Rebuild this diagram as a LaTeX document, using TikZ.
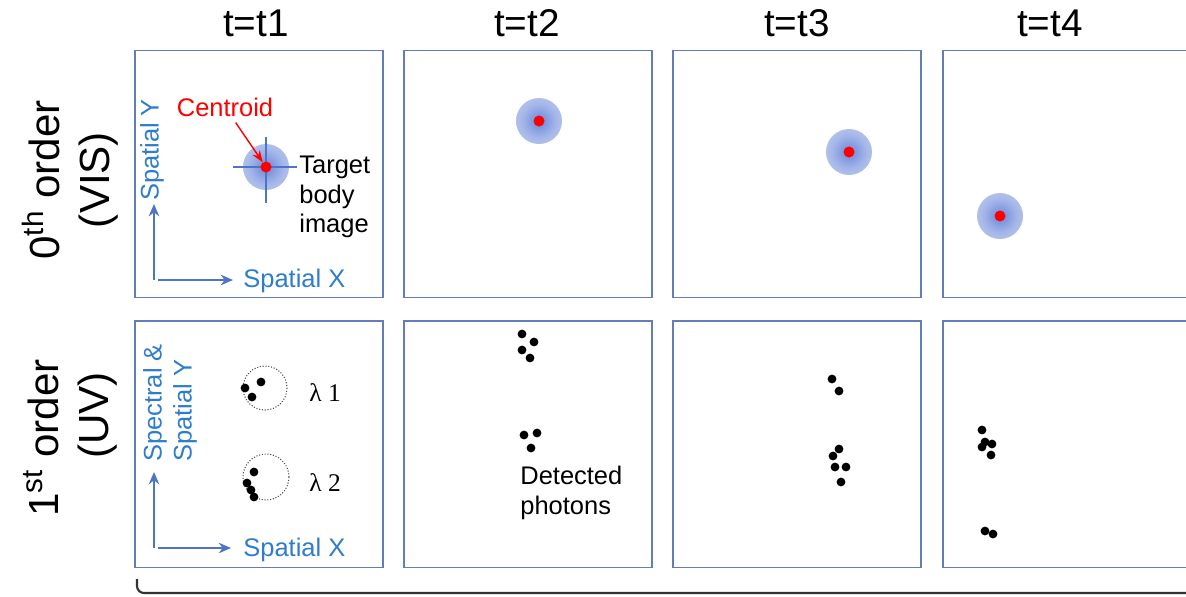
\documentclass[tikz,border=0pt]{standalone}
\usepackage{fontspec}
\setmainfont{Liberation Sans}
\newfontfamily\seriffont{Liberation Serif}
\usetikzlibrary{
  arrows.meta,
  positioning
}
\definecolor{panelblue}{RGB}{98,126,186}
\definecolor{axline}{RGB}{78,116,196}
\definecolor{axtext}{RGB}{46,125,205}
\definecolor{glowin}{RGB}{105,135,218}
\definecolor{glowout}{RGB}{222,228,247}
\pgfdeclareradialshading{glow}{\pgfpointorigin}{%
  color(0bp)=(glowin); color(18bp)=(glowin!50!glowout); color(50bp)=(glowout)}

\begin{document}
\begin{tikzpicture}[
  x=0.02cm, y=-0.02cm,
  every node/.style={font=\fontsize{14.5}{17}\selectfont},
  panel/.style={draw=panelblue, line width=1.1pt, fill=white, minimum width=4.96cm, minimum height=4.94cm, inner sep=0pt},
  header/.style={font=\fontsize{22}{26}\selectfont},
  order/.style={rotate=90, align=center, font=\fontsize{24}{28.5}\selectfont},
  axislabel/.style={text=axtext, inner sep=0pt},
  axis/.style={draw=axline, line width=0.9pt, -{Stealth[length=7pt, width=6pt]}},
  centroid/.style={circle, fill=red, minimum size=0.22cm, inner sep=0pt},
  >=Stealth
]
\useasboundingbox (0,0) rectangle (1186,596);
\clip (0,0) rectangle (1186,596);

% column headers
\node[header] (h1) at (256,23) {t=t1};
\node[header] (h2) at (527,23) {t=t2};
\node[header] (h3) at (797,23) {t=t3};
\node[header] (h4) at (1050,23) {t=t4};

% row labels
\node[order] (vis) at (70,180) {0\textsuperscript{th} order\\(VIS)};
\node[order] (uv) at (70,438) {1\textsuperscript{st} order\\\hspace*{0.9cm}(UV)};

% panels
\foreach \col/\x in {1/259, 2/528, 3/797, 4/1067} {
  \node[panel] (vis\col) at (\x,174) {};
  \node[panel] (uv\col) at (\x,444) {};
}

% target body images
\foreach \x/\y in {266/167, 539/121, 849/152, 1000/216}
  \shade[shading=glow] (\x,\y) circle (23);
\draw[axline, line width=0.6pt] (233,167) -- (297,167) (266,137) -- (266,203);
\foreach \n/\x/\y in {1/266/167, 2/539/121, 3/849/152, 4/1000/216}
  \node[centroid] (c\n) at (\x,\y) {};

\node[text=red] (cen) at (225,107) {Centroid};
\draw[red, line width=0.8pt, ->] (cen) -- (c1);
\node[align=left, anchor=west, inner sep=0pt] (target) at (299,197) {Target\\body\\image};

% axes, VIS
\coordinate (o1) at (154,280);
\coordinate (yend1) at (154,204);
\coordinate (xend1) at (233,280);
\draw[axis] (o1) -- (yend1);
\draw[axis, shorten <=2pt] (o1) -- (xend1);
\node[axislabel, anchor=west] (sx1) at (243,281) {Spatial X};
\node[axislabel, rotate=90] (sy1) at (152,150) {Spatial Y};

% axes, UV
\coordinate (o2) at (154,548);
\coordinate (yend2) at (154,472);
\coordinate (xend2) at (231,548);
\draw[axis] (o2) -- (yend2);
\draw[axis, shorten <=2pt] (o2) -- (xend2);
\node[axislabel, anchor=west] (sx2) at (243,550) {Spatial X};
\node[axislabel, rotate=90, align=left, anchor=west] (sy2) at (170,462) {Spectral \&\\Spatial Y};

% slit images
\draw[densely dotted, gray!60!black, line width=0.6pt] (265,388) circle (22) (266,477) circle (23);
\node[anchor=west, inner sep=0pt] (lam1) at (309,393) {\seriffont λ 1};
\node[anchor=west, inner sep=0pt] (lam2) at (309,483) {\seriffont λ 2};

% detected photons
\foreach \x/\y in {261/382, 245/388, 252/397, 254/472, 247/483, 251/490, 254/497,
                   522/334, 534/342, 522/350, 530/358, 524/435, 537/433, 531/448,
                   832/379, 839/391, 839/449, 833/456, 835/467, 846/467, 841/482,
                   982/430, 985/442, 992/444, 982/447, 991/455, 985/531, 993/534}
  \fill (\x,\y) circle (4.4);
\node[align=left, anchor=west, inner sep=0pt] (det) at (520,493) {Detected\\photons};

% bracket
\draw[line width=1.2pt, black!80, rounded corners=4pt] (137,579) -- (137,593) -- (1190,593);

\end{tikzpicture}
\end{document}
